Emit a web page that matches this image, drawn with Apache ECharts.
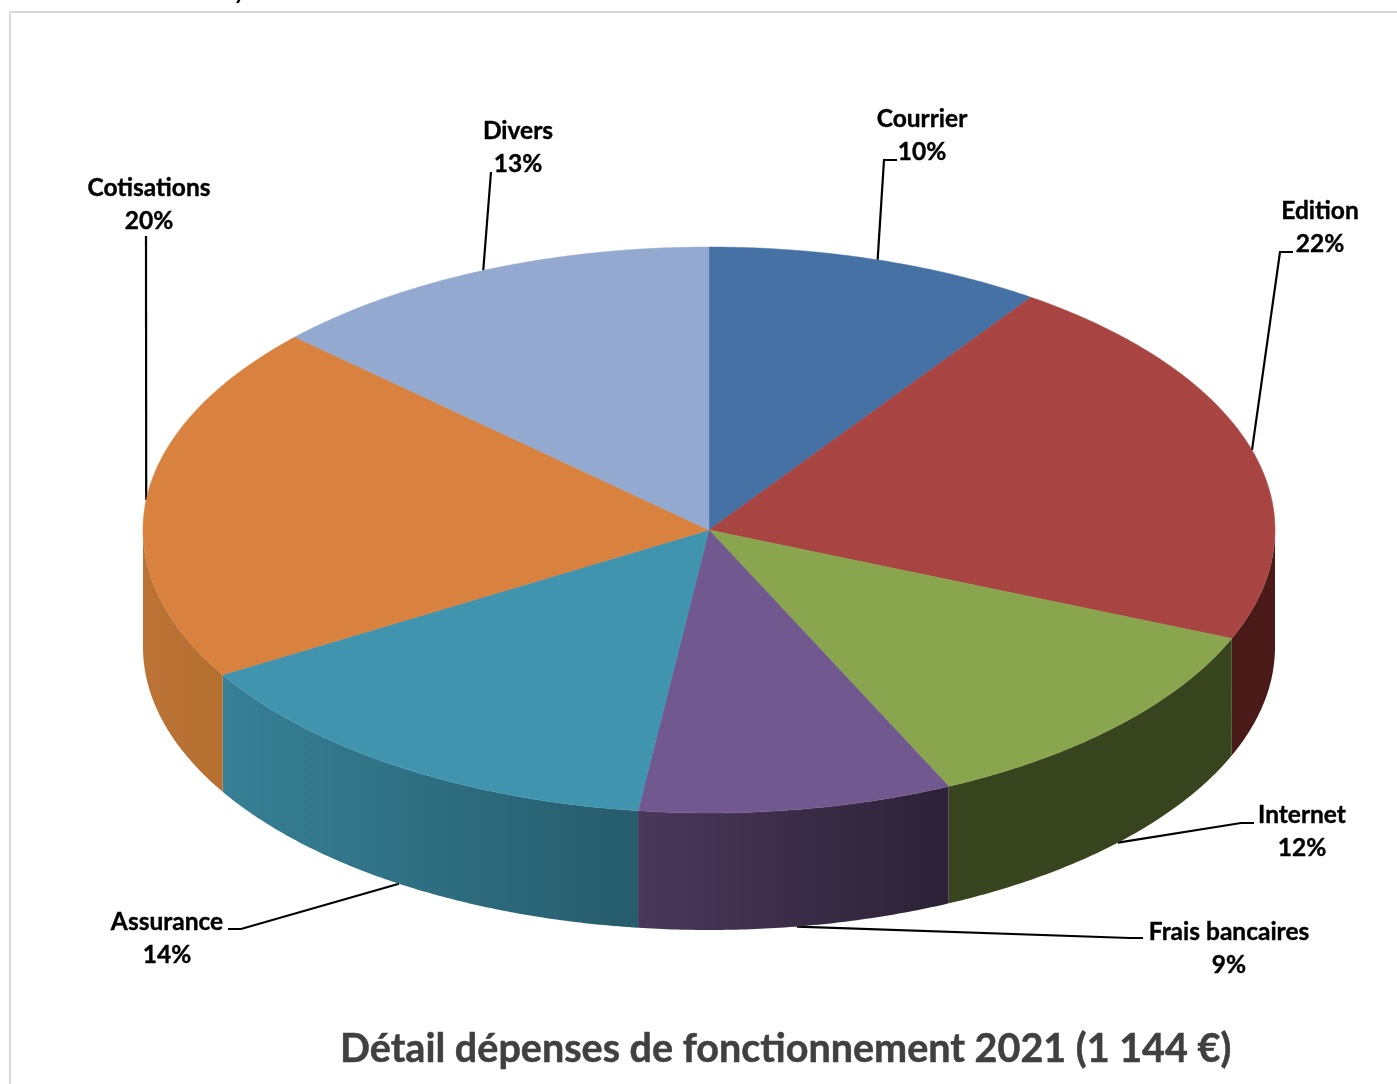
<!DOCTYPE html>
<html><head><meta charset="utf-8">
<style>html,body{margin:0;padding:0;background:#fff}#c{width:1397px;height:1084px}</style>
<script src="https://cdn.jsdelivr.net/npm/echarts@6/dist/echarts.min.js"></script>
</head><body><div id="c"></div>
<script>
const categories = ['Courrier','Edition','Internet','Frais bancaires','Assurance','Cotisations','Divers'];
const shares = [9.63, 21.63, 11.78, 8.96, 14.45, 20.49, 13.06];
const titleText = 'Détail dépenses de fonctionnement 2021 (1 144 €)';
const topColors = ['#4671a5','#a84442','#89a54e','#71588f','#4094ae','#d9813e','#93a9cf'];
const sideFrom = ['#2f4c70','#4a1a18','#38441e','#4a385a','#378096','#bb7336','#64738d'];
const sideTo = ['#2f4c70','#4a1a18','#38441e','#2b2236','#265c6c','#b5702f','#64738d'];
// leader-line bend and end, label centre
const labelLayout = [
  {bend:[884,160],end:[897,160],text:[922,136]},
  {bend:[1280,252],end:[1293,252],text:[1320,228]},
  {bend:[1241,823],end:[1254,823],text:[1302,832]},
  {bend:[1130,938],end:[1143,938],text:[1229,949]},
  {bend:[241,929],end:[228,929],text:[167,939]},
  {bend:[146,236],end:[146,236],text:[149,205]},
  {bend:[491,172],end:[491,172],text:[518,148]}
];
const CX=709, CY=530, RX=566, RY=283, DEPTH=117;
const total = shares.reduce((a,b)=>a+b,0);
const fontFamily = 'Lato, "Open Sans", sans-serif';

function pt(deg,dy){const r=deg*Math.PI/180;return [CX+RX*Math.sin(r),CY-RY*Math.cos(r)+(dy||0)];}
function arc(a,b,dy){const n=Math.max(2,Math.ceil(Math.abs(b-a)*2)),p=[];for(let i=0;i<=n;i++)p.push(pt(a+(b-a)*i/n,dy));return p;}

function renderItem(params,api){
  const i=params.dataIndex;
  let before=0;for(let k=0;k<i;k++)before+=api.value(0,k);
  const v=api.value(0);
  const a=before/total*360,b=(before+v)/total*360;
  const ch=[];
  const sa=Math.max(a,90),sb=Math.min(b,270);
  if(sb>sa){
    const pts=arc(sa,sb,0).concat(arc(sb,sa,DEPTH));
    const fill=new echarts.graphic.LinearGradient(0,0,1,0,[
      {offset:0,color:sideFrom[i]},{offset:1,color:sideTo[i]}]);
    ch.push({type:'polygon',z2:1,shape:{points:pts},style:{fill:fill,stroke:null}});
  }
  ch.push({type:'polygon',z2:2,shape:{points:[[CX,CY]].concat(arc(a,b,0))},
    style:{fill:topColors[i],stroke:topColors[i],lineWidth:0.5}});
  const mid=(a+b)/2, front=Math.cos(mid*Math.PI/180)<0;
  const anchor=pt(mid,front&&Math.abs(mid-270)>10?DEPTH:0);
  const L=labelLayout[i];
  ch.push({type:'polyline',z2:0,shape:{points:[anchor,L.bend,L.end]},
    style:{stroke:'#000',lineWidth:2.2,fill:null}});
  const pct=Math.round(v/total*100);
  ch.push({type:'text',z2:5,x:L.text[0],y:L.text[1],style:{
    text:api.value(1)+'\n'+pct+'%',fill:'#000',stroke:'#000',lineWidth:0.4,align:'center',verticalAlign:'middle',
    font:'bold 24.5px '+fontFamily,lineHeight:33}});
  return {type:'group',children:ch};
}

const chart=echarts.init(document.getElementById('c'),null,{renderer:'canvas',width:1397,height:1084});
chart.setOption({
  animation:false,
  backgroundColor:'#fff',
  title:{text:titleText,left:340,top:1029,padding:0,
    textStyle:{fontFamily:fontFamily,fontWeight:'bold',fontSize:39.5,color:'#404040',textBorderColor:'#404040',textBorderWidth:0.5}},
  graphic:[
    {type:'polyline',z:-1,shape:{points:[[10,1084],[10,12],[1397,12]]},style:{stroke:'#d9d9d9',lineWidth:2,fill:null}},
    {type:'text',z:-1,x:235,y:3,style:{text:'y',font:'italic bold 24px '+fontFamily,fill:'#000',verticalAlign:'bottom'}}
  ],
  series:[{
    type:'custom',coordinateSystem:'none',renderItem:renderItem,
    data:categories.map((c,i)=>[shares[i],c]),
    dimensions:[{name:'share',type:'number'},{name:'name',type:'ordinal'}]
  }]
});
</script></body></html>
